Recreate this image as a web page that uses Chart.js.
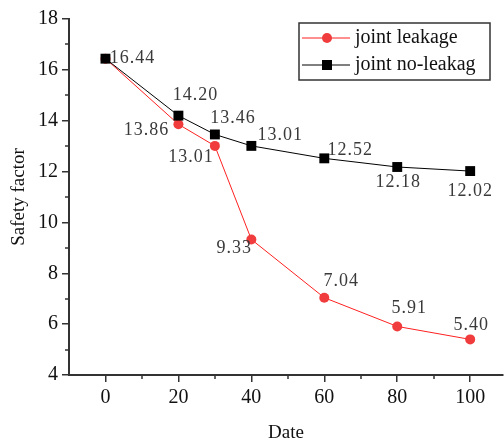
<!DOCTYPE html>
<html>
<head>
  <meta charset="utf-8">
  <title>Safety factor</title>
  <script src="https://cdn.jsdelivr.net/npm/chart.js@4/dist/chart.umd.min.js"></script>
  <style>
    body { margin: 0; background: #fff; }
    canvas { display: block; }
  </style>
</head>
<body>
  <canvas id="chart" width="504" height="444"></canvas>
  <script>
    // data
    var DATES = [0, 20, 30, 40, 60, 80, 100];
    var LEAKAGE = [16.44, 13.86, 13.01, 9.33, 7.04, 5.91, 5.40];
    var NO_LEAKAGE = [16.44, 14.20, 13.46, 13.01, 12.52, 12.18, 12.02];
    var SERIES_NAMES = ['joint leakage', 'joint no-leakag'];
    var X_MAJOR = [0, 20, 40, 60, 80, 100];
    var X_MINOR = [10, 30, 50, 70, 90];
    var Y_MAJOR = [4, 6, 8, 10, 12, 14, 16, 18];
    var Y_MINOR = [5, 7, 9, 11, 13, 15, 17];

    // where each value label sits relative to its point (px), null = no label
    var LEAK_LABEL_OFFSET = [null, [-32, 6], [-24, 11], [-17, 9], [17, -16], [12, -18], [1, -14]];
    var NOLEAK_LABEL_OFFSET = [[27, 0], [17, -20], [18, -16], [29, -11], [26, -8], [1, 15], [0, 20]];

    var SERIF = '"Liberation Serif", "DejaVu Serif", serif';
    var RED = '#f03c3c';

    function toPoints(ys) {
      return DATES.map(function(x, i) { return { x: x, y: ys[i] }; });
    }

    var valueLabels = {
      id: 'valueLabels',
      afterDatasetsDraw: function(chart) {
        var ctx = chart.ctx;
        var offsets = [LEAK_LABEL_OFFSET, NOLEAK_LABEL_OFFSET];
        ctx.save();
        ctx.font = '18px ' + SERIF;
        ctx.fillStyle = '#3a3a3a';
        ctx.textAlign = 'center';
        ctx.textBaseline = 'middle';
        ctx.letterSpacing = '1px';
        chart.data.datasets.forEach(function(ds, di) {
          var meta = chart.getDatasetMeta(di);
          meta.data.forEach(function(pt, i) {
            var off = offsets[di][i];
            if (!off) return;
            ctx.fillText(ds.data[i].y.toFixed(2), pt.x + off[0], pt.y + off[1]);
          });
        });
        ctx.restore();
      }
    };

    var minorTicks = {
      id: 'minorTicks',
      afterDraw: function(chart) {
        var ctx = chart.ctx, xs = chart.scales.x, ys = chart.scales.y;
        var area = chart.chartArea;
        ctx.save();
        ctx.strokeStyle = '#333';
        ctx.lineWidth = 1.5;
        ctx.beginPath();
        X_MINOR.forEach(function(v) {
          var px = Math.round(xs.getPixelForValue(v));
          ctx.moveTo(px, area.bottom);
          ctx.lineTo(px, area.bottom + 4);
        });
        Y_MINOR.forEach(function(v) {
          var py = Math.round(ys.getPixelForValue(v));
          ctx.moveTo(area.left, py);
          ctx.lineTo(area.left - 4, py);
        });
        ctx.stroke();
        ctx.restore();
      }
    };

    var boxLegend = {
      id: 'boxLegend',
      afterDraw: function(chart) {
        var ctx = chart.ctx, area = chart.chartArea;
        var w = 191, h = 57;
        var x0 = area.right - 13 - w, y0 = area.top + 4;
        ctx.save();
        ctx.fillStyle = '#fff';
        ctx.fillRect(x0, y0, w, h);
        ctx.strokeStyle = '#333';
        ctx.lineWidth = 1.5;
        ctx.strokeRect(x0, y0, w, h);
        ctx.font = '20px ' + SERIF;
        ctx.textBaseline = 'middle';
        ctx.textAlign = 'left';
        var rows = [
          { name: SERIES_NAMES[0], color: RED, line: '#ff2020', shape: 'circle' },
          { name: SERIES_NAMES[1], color: '#000', line: '#000', shape: 'rect' }
        ];
        rows.forEach(function(r, i) {
          var cy = y0 + 15 + i * 27;
          ctx.strokeStyle = r.line;
          ctx.lineWidth = 1;
          ctx.beginPath();
          ctx.moveTo(x0 + 3, cy);
          ctx.lineTo(x0 + 51, cy);
          ctx.stroke();
          ctx.fillStyle = r.color;
          if (r.shape === 'circle') {
            ctx.beginPath();
            ctx.arc(x0 + 28, cy, 5, 0, Math.PI * 2);
            ctx.fill();
          } else {
            ctx.fillRect(x0 + 23, cy - 5, 10, 10);
          }
          ctx.fillStyle = '#111';
          ctx.fillText(r.name, x0 + 56, cy);
        });
        ctx.restore();
      }
    };

    new Chart(document.getElementById('chart'), {
      type: 'line',
      data: {
        datasets: [
          {
            label: SERIES_NAMES[0],
            data: toPoints(LEAKAGE),
            borderColor: '#ff2020',
            borderWidth: 1,
            backgroundColor: RED,
            pointBackgroundColor: RED,
            pointBorderWidth: 0,
            pointRadius: 5,
            pointStyle: 'circle',
            order: 1
          },
          {
            label: SERIES_NAMES[1],
            data: toPoints(NO_LEAKAGE),
            borderColor: '#000',
            borderWidth: 1,
            backgroundColor: '#000',
            pointBackgroundColor: '#000',
            pointBorderWidth: 0,
            pointRadius: 7,
            pointStyle: 'rect',
            order: 0
          }
        ]
      },
      options: {
        responsive: false,
        animation: false,
        layout: { autoPadding: false, padding: { top: 19, right: 1, left: 0, bottom: 0 } },
        plugins: {
          legend: { display: false },
          tooltip: { enabled: false }
        },
        scales: {
          x: {
            type: 'linear',
            min: -10,
            max: 109,
            afterBuildTicks: function(scale) {
              scale.ticks = X_MAJOR.map(function(v) { return { value: v }; });
            },
            afterFit: function(scale) {
              scale.height = 69;
              scale.paddingLeft = 0;
              scale.paddingRight = 0;
            },
            grid: { drawOnChartArea: false, tickLength: 7, color: '#333', lineWidth: 1.5 },
            border: { color: '#333', width: 2 },
            ticks: {
              font: { family: SERIF, size: 20 },
              color: '#111',
              padding: 4,
              maxRotation: 0
            },
            title: {
              display: true,
              text: 'Date',
              font: { family: SERIF, size: 19 },
              color: '#111',
              padding: { top: 6, bottom: 0 }
            }
          },
          y: {
            type: 'linear',
            min: 4,
            max: 18,
            afterBuildTicks: function(scale) {
              scale.ticks = Y_MAJOR.map(function(v) { return { value: v }; });
            },
            afterFit: function(scale) { scale.width = 69; },
            grid: { drawOnChartArea: false, tickLength: 7, color: '#333', lineWidth: 1.5 },
            border: { color: '#333', width: 2 },
            ticks: {
              font: { family: SERIF, size: 20 },
              color: '#111',
              padding: 4
            },
            title: {
              display: true,
              text: 'Safety factor',
              font: { family: SERIF, size: 19 },
              color: '#111',
              padding: { top: 8, bottom: 0 }
            }
          }
        }
      },
      plugins: [valueLabels, minorTicks, boxLegend]
    });
  </script>
</body>
</html>
